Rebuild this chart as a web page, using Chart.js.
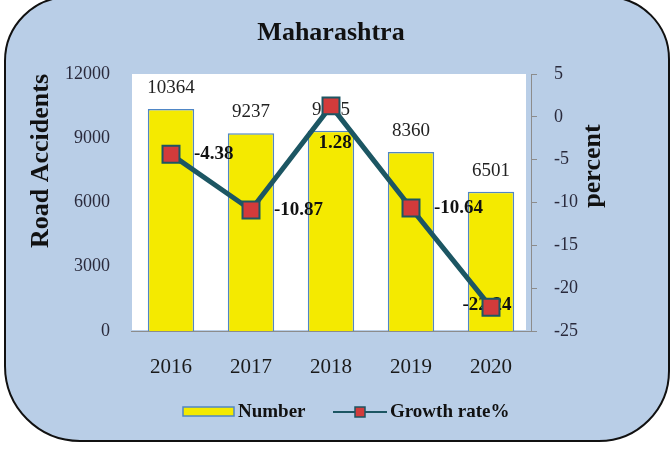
<!DOCTYPE html>
<html lang="en">
<head>
<meta charset="UTF-8">
<title>Maharashtra - Road Accidents</title>
<script src="https://cdn.jsdelivr.net/npm/chart.js"></script>
<style>
  html, body { margin: 0; padding: 0; background: #fff; }
  #wrap { width: 670px; height: 452px; }
</style>
</head>
<body>
<div id="wrap"><canvas id="roadChart" width="670" height="452"></canvas></div>
<script>
// data
const years = ['2016', '2017', '2018', '2019', '2020'];
const accidents = [10364, 9237, 9355, 8360, 6501];
const growthRate = [-4.38, -10.87, 1.28, -10.64, -22.24];
const accidentTicks = [0, 3000, 6000, 9000, 12000];
const growthTicks = [-25, -20, -15, -10, -5, 0, 5];
// where each growth label sits relative to its point
const growthLabelPos = ['right', 'right', 'below', 'right', 'center'];

const SERIF = '"Liberation Serif", "Times New Roman", serif';
const BG = '#b9cee7';
const YELLOW = '#f4ea00';
const BAR_EDGE = '#4f86c6';
const TEAL = '#1c5663';
const RED = '#d23b3b';
const AXIS = '#8c8c8c';
const TICK_TXT = '#2a2a3c';

// rounded frame + white plot area
const framePlugin = {
    id: 'frame',
    beforeDraw(chart) {
        const ctx = chart.ctx;
        const area = chart.chartArea;
        ctx.save();
        ctx.fillStyle = '#fff';
        ctx.fillRect(0, 0, chart.width, chart.height);
        ctx.beginPath();
        ctx.roundRect(5, -3, 664, 444, [64, 62, 70, 75]);
        ctx.fillStyle = BG;
        ctx.fill();
        ctx.lineWidth = 2;
        ctx.strokeStyle = '#111';
        ctx.stroke();
        ctx.fillStyle = '#fff';
        ctx.fillRect(area.left + 1, area.top, area.right - area.left - 6, area.bottom - area.top - 1);
        ctx.restore();
    }
};

// value labels: drawn after the bars, under the line
const labelPlugin = {
    id: 'valueLabels',
    afterDatasetDraw(chart, args) {
        if (args.index !== 0) return;
        const ctx = chart.ctx;
        ctx.save();
        ctx.textBaseline = 'middle';

        ctx.font = '19px ' + SERIF;
        ctx.fillStyle = '#222';
        ctx.textAlign = 'center';
        chart.getDatasetMeta(0).data.forEach((bar, i) => {
            ctx.fillText(String(accidents[i]), bar.x, bar.y - 21);
        });

        ctx.font = 'bold 19px ' + SERIF;
        ctx.fillStyle = '#111';
        chart.getDatasetMeta(1).data.forEach((pt, i) => {
            const txt = growthRate[i].toFixed(2);
            const pos = growthLabelPos[i];
            if (pos === 'right') {
                ctx.textAlign = 'left';
                ctx.fillText(txt, pt.x + 23, pt.y);
            } else if (pos === 'below') {
                ctx.textAlign = 'center';
                ctx.fillText(txt, pt.x + 4, pt.y + 37);
            } else {
                ctx.textAlign = 'center';
                ctx.fillText(txt, pt.x - 4, pt.y - 2);
            }
        });
        ctx.restore();
    }
};

// title, right axis title and legend
const extrasPlugin = {
    id: 'extras',
    afterDraw(chart) {
        const ctx = chart.ctx;
        const area = chart.chartArea;
        const ds = chart.data.datasets;
        ctx.save();
        ctx.fillStyle = '#111';
        ctx.textBaseline = 'middle';
        ctx.textAlign = 'center';

        ctx.font = 'bold 26px ' + SERIF;
        ctx.fillText('Maharashtra', (area.left + area.right) / 2, 33);

        // right axis title reads bottom to top like the left one
        const r = chart.scales.y1;
        ctx.translate(r.left + 62, area.top + 92);
        ctx.rotate(-Math.PI / 2);
        ctx.fillText('percent', 0, 0);
        ctx.setTransform(1, 0, 0, 1, 0, 0);

        // legend
        const ly = 412;
        ctx.font = 'bold 19px ' + SERIF;
        ctx.textAlign = 'left';
        ctx.fillStyle = ds[0].backgroundColor;
        ctx.fillRect(183, ly - 5, 51, 9);
        ctx.strokeStyle = ds[0].borderColor;
        ctx.lineWidth = 1.5;
        ctx.strokeRect(183, ly - 5, 51, 9);
        ctx.fillStyle = '#111';
        ctx.fillText(ds[0].label, 238, ly);

        ctx.strokeStyle = ds[1].borderColor;
        ctx.lineWidth = 2;
        ctx.beginPath();
        ctx.moveTo(333, ly);
        ctx.lineTo(387, ly);
        ctx.stroke();
        ctx.fillStyle = ds[1].pointBackgroundColor;
        ctx.fillRect(355, ly - 5, 10, 10);
        ctx.lineWidth = 1.5;
        ctx.strokeRect(355, ly - 5, 10, 10);
        ctx.fillStyle = '#111';
        ctx.fillText(ds[1].label, 390, ly);
        ctx.restore();
    }
};

const ctx = document.getElementById('roadChart').getContext('2d');
new Chart(ctx, {
    type: 'bar',
    data: {
        labels: years,
        datasets: [
            {
                type: 'bar',
                label: 'Number',
                data: accidents,
                yAxisID: 'y',
                backgroundColor: YELLOW,
                borderColor: BAR_EDGE,
                borderWidth: 1.5,
                barPercentage: 0.58,
                categoryPercentage: 1,
                order: 1
            },
            {
                type: 'line',
                label: 'Growth rate%',
                data: growthRate,
                yAxisID: 'y1',
                borderColor: TEAL,
                borderWidth: 5,
                tension: 0,
                pointStyle: 'rect',
                pointRadius: 12,
                pointBackgroundColor: RED,
                pointBorderColor: TEAL,
                pointBorderWidth: 2,
                order: 0
            }
        ]
    },
    options: {
        responsive: false,
        animation: false,
        layout: { padding: { top: 74, bottom: 61, left: 0, right: 0 } },
        plugins: {
            legend: { display: false },
            title: { display: false },
            tooltip: { enabled: false }
        },
        scales: {
            x: {
                grid: { display: false, drawTicks: false },
                border: { display: true, color: AXIS, width: 1 },
                ticks: { font: { family: SERIF, size: 21 }, color: '#1a1a1a', padding: 24 },
                afterFit: s => { s.height = 60; }
            },
            y: {
                position: 'left',
                min: 0,
                max: 12000,
                afterBuildTicks: s => { s.ticks = accidentTicks.map(v => ({ value: v })); },
                grid: { display: false, drawTicks: false },
                border: { display: false },
                ticks: {
                    font: { family: SERIF, size: 18 },
                    color: TICK_TXT,
                    padding: 21,
                    callback: v => String(v)
                },
                title: {
                    display: true,
                    text: 'Road Accidents',
                    align: 'end',
                    font: { family: SERIF, size: 26, weight: 'bold' },
                    color: '#111',
                    padding: { top: 26, bottom: 0 }
                },
                afterFit: s => { s.width = 131; }
            },
            y1: {
                position: 'right',
                min: -25,
                max: 5,
                afterBuildTicks: s => { s.ticks = growthTicks.map(v => ({ value: v })); },
                grid: { drawOnChartArea: false, drawTicks: true, tickLength: 6, color: AXIS },
                border: { display: true, color: AXIS, width: 1 },
                ticks: { font: { family: SERIF, size: 18 }, color: TICK_TXT, padding: 17 },
                afterFit: s => { s.width = 139; }
            }
        }
    },
    plugins: [framePlugin, labelPlugin, extrasPlugin]
});
</script>
</body>
</html>
